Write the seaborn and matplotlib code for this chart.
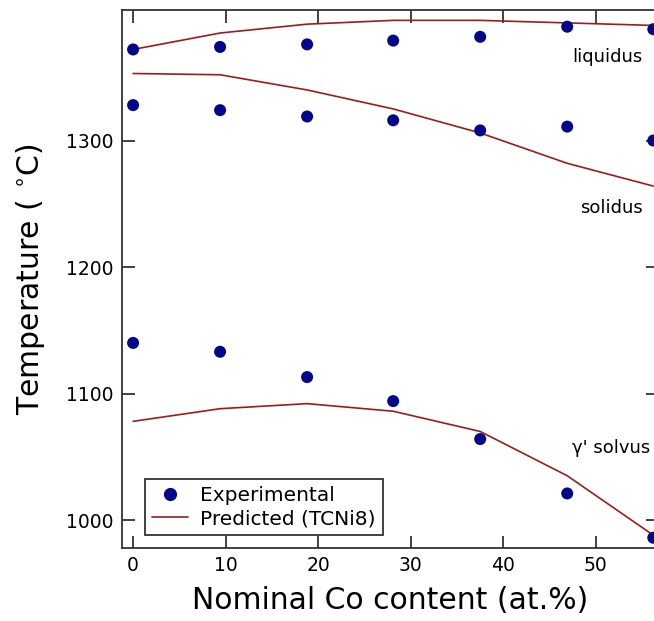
import matplotlib
matplotlib.use("Agg")
import matplotlib.pyplot as plt
from matplotlib.lines import Line2D
import seaborn as sns
import pandas as pd

# Nominal Co content of the alloys (at.%)
co_content = [0.0, 9.4, 18.8, 28.1, 37.5, 46.9, 56.2]

# Measured transition temperatures (deg C)
exp_liquidus = [1372, 1374, 1376, 1379, 1382, 1390, 1388]
exp_solidus = [1328, 1324, 1319, 1316, 1308, 1311, 1300]
exp_solvus = [1140, 1133, 1113, 1094, 1064, 1021, 986]

# Thermodynamic predictions (TCNi8)
pred_liquidus = [1372, 1385, 1392, 1395, 1395, 1393, 1391]
pred_solidus = [1353, 1352, 1340, 1325, 1306, 1282, 1264]
pred_solvus = [1078, 1088, 1092, 1086, 1070, 1035, 988]

curve_names = ["liquidus", "solidus", "solvus"]

exp_df = pd.DataFrame({
    "co": co_content * 3,
    "T": exp_liquidus + exp_solidus + exp_solvus,
    "curve": sum([[c] * len(co_content) for c in curve_names], []),
})
pred_df = pd.DataFrame({
    "co": co_content * 3,
    "T": pred_liquidus + pred_solidus + pred_solvus,
    "curve": sum([[c] * len(co_content) for c in curve_names], []),
})

sns.set_style("ticks")
plt.rcParams["font.family"] = ["DejaVu Sans"]
plt.rcParams["text.color"] = "black"
plt.rcParams["axes.labelcolor"] = "black"
plt.rcParams["xtick.labelcolor"] = "black"
plt.rcParams["ytick.labelcolor"] = "black"

dot_color = "#06068a"
line_color = "#9e1b1b"

fig = plt.figure(figsize=(6.54, 6.21), dpi=100)
ax = fig.add_axes([0.1865, 0.1176, 0.8195, 0.8663])

sns.lineplot(data=pred_df, x="co", y="T", units="curve", estimator=None,
             color=line_color, linewidth=1.2, ax=ax, legend=False)
sns.scatterplot(data=exp_df, x="co", y="T", color=dot_color, s=75,
                edgecolor="none", ax=ax, legend=False, zorder=3)

ax.set_xlim(-1.2, 56.7)
ax.set_ylim(977.9, 1403.2)
ax.set_xticks([0, 10, 20, 30, 40, 50])
ax.set_yticks([1000, 1100, 1200, 1300])

for side in ["left", "right", "top", "bottom"]:
    ax.spines[side].set_visible(True)
    ax.spines[side].set_linewidth(1.3)
    ax.spines[side].set_color("#333333")

ax.tick_params(direction="in", length=9, width=1.2, color="#222222",
               top=True, right=True, labelsize=13.5, pad=6)

ax.set_xlabel("Nominal Co content (at.%)", fontsize=21.5, labelpad=8)
ax.set_ylabel("Temperature ( $^{\\circ}$C)", fontsize=21.5, labelpad=14)

ax.text(51.2, 1366, "liquidus", fontsize=13, ha="center", va="center")
ax.text(51.7, 1247, "solidus", fontsize=13, ha="center", va="center")
ax.text(51.6, 1057, "\u03b3' solvus", fontsize=13, ha="center", va="center")

handles = [
    Line2D([], [], marker="o", linestyle="none", markersize=9.5,
           markerfacecolor=dot_color, markeredgecolor="none"),
    Line2D([], [], color=line_color, linewidth=1.2),
]
leg = ax.legend(handles, ["Experimental", "Predicted (TCNi8)"],
                loc="lower left", bbox_to_anchor=(0.043, 0.024),
                borderaxespad=0, fontsize=14.5, frameon=True, fancybox=False,
                edgecolor="#333333", handlelength=1.8, handletextpad=0.6,
                borderpad=0.35, labelspacing=0.2)
leg.get_frame().set_linewidth(1.3)
leg.get_frame().set_alpha(1)

fig.savefig("out.png", dpi=100)
